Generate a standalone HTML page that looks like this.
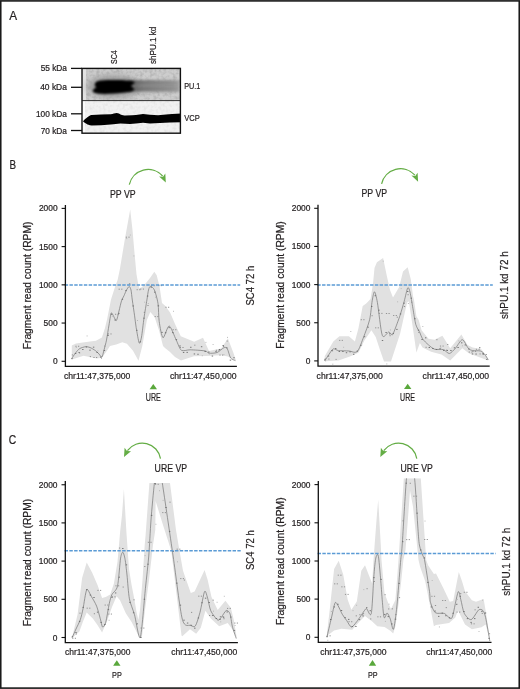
<!DOCTYPE html>
<html><head><meta charset="utf-8"><style>
html,body{margin:0;padding:0;background:#fff;}
svg{display:block;font-family:"Liberation Sans",sans-serif;will-change:transform;}
text{stroke:#231f20;stroke-width:0.22px;}
</style></head><body>
<svg width="520" height="689" viewBox="0 0 520 689">
<rect x="0" y="0" width="520" height="689" fill="#fff"/>
<text x="9.20" y="19.60" font-size="13.00" fill="#231f20" textLength="7.86" lengthAdjust="spacingAndGlyphs">A</text>
<text x="9.50" y="168.80" font-size="13.00" fill="#231f20" textLength="6.57" lengthAdjust="spacingAndGlyphs">B</text>
<text x="8.70" y="444.10" font-size="13.00" fill="#231f20" textLength="7.42" lengthAdjust="spacingAndGlyphs">C</text>
<text transform="translate(116.90 63.90) rotate(-90)" x="0" y="0" font-size="9.40" fill="#231f20" textLength="13.67" lengthAdjust="spacingAndGlyphs">SC4</text>
<text transform="translate(155.70 63.90) rotate(-90)" x="0" y="0" font-size="9.20" fill="#231f20" textLength="37.03" lengthAdjust="spacingAndGlyphs">shPU.1 kd</text>
<text x="40.70" y="71.30" font-size="8.30" fill="#231f20" textLength="26.19" lengthAdjust="spacingAndGlyphs">55 kDa</text>
<text x="40.20" y="90.00" font-size="8.30" fill="#231f20" textLength="26.69" lengthAdjust="spacingAndGlyphs">40 kDa</text>
<text x="36.00" y="116.70" font-size="8.30" fill="#231f20" textLength="30.85" lengthAdjust="spacingAndGlyphs">100 kDa</text>
<text x="40.70" y="133.50" font-size="8.30" fill="#231f20" textLength="26.19" lengthAdjust="spacingAndGlyphs">70 kDa</text>
<line x1="71.00" y1="68.40" x2="82.00" y2="68.40" stroke="#111" stroke-width="1.30"/>
<line x1="71.00" y1="87.30" x2="82.00" y2="87.30" stroke="#111" stroke-width="1.30"/>
<line x1="71.00" y1="113.80" x2="82.00" y2="113.80" stroke="#111" stroke-width="1.30"/>
<line x1="71.00" y1="130.50" x2="82.00" y2="130.50" stroke="#111" stroke-width="1.30"/>
<text x="184.20" y="88.70" font-size="9.00" fill="#231f20" textLength="16.22" lengthAdjust="spacingAndGlyphs">PU.1</text>
<text x="184.20" y="121.00" font-size="9.00" fill="#231f20" textLength="15.57" lengthAdjust="spacingAndGlyphs">VCP</text>

<defs>
 <filter id="noise" x="0" y="0" width="100%" height="100%">
  <feTurbulence type="fractalNoise" baseFrequency="0.3" numOctaves="2" seed="7"/>
  <feColorMatrix type="matrix" values="0 0 0 0 0  0 0 0 0 0  0 0 0 0 0  0 0 0 -0.9 0.55"/>
 </filter>
 <filter id="blur06" x="-10%" y="-30%" width="120%" height="160%"><feGaussianBlur stdDeviation="0.6"/></filter>
 <filter id="blur08" x="-10%" y="-30%" width="120%" height="160%"><feGaussianBlur stdDeviation="0.85"/></filter>
 <filter id="blur15" x="-20%" y="-50%" width="140%" height="200%"><feGaussianBlur stdDeviation="1.5"/></filter>
 <filter id="blur1" x="-20%" y="-80%" width="140%" height="260%"><feGaussianBlur stdDeviation="1"/></filter>
 <filter id="blur2" x="-20%" y="-50%" width="140%" height="200%"><feGaussianBlur stdDeviation="2"/></filter>
 <filter id="blur3" x="-20%" y="-50%" width="140%" height="200%"><feGaussianBlur stdDeviation="3.5"/></filter>
 <clipPath id="clipTop"><rect x="82" y="68.5" width="98.5" height="32"/></clipPath>
 <clipPath id="clipBot"><rect x="82" y="100.5" width="98.5" height="33"/></clipPath>
</defs>
<g clip-path="url(#clipTop)">
 <rect x="82" y="68.5" width="99" height="32" fill="#cdcdcd"/>
 <rect x="82" y="68.5" width="99" height="32" fill="#fff" filter="url(#noise)" opacity="0.3"/>
 <rect x="82" y="68.5" width="4" height="32" fill="#e2e2e2"/>
 <ellipse cx="113" cy="86.5" rx="26" ry="11" fill="#9a9a9a" filter="url(#blur3)"/>
 <linearGradient id="smg" x1="0" y1="0" x2="1" y2="0"><stop offset="0" stop-color="#606060"/><stop offset="0.3" stop-color="#838383"/><stop offset="0.85" stop-color="#939393"/><stop offset="1" stop-color="#a2a2a2"/></linearGradient>
 <linearGradient id="smg2" x1="0" y1="0" x2="1" y2="0"><stop offset="0" stop-color="#555" stop-opacity="0.6"/><stop offset="1" stop-color="#777" stop-opacity="0.15"/></linearGradient>
 <rect x="128" y="80.2" width="52" height="11.8" fill="url(#smg)" filter="url(#blur15)"/>
 <rect x="130" y="81" width="48" height="2.6" fill="url(#smg2)" filter="url(#blur1)"/>
 <rect x="130" y="87.6" width="48" height="2.6" fill="url(#smg2)" filter="url(#blur1)"/>
 <path d="M96.5,87.2 C95.2,86.6 94.6,85.6 94.8,84.2 C95.2,82.2 97,81 100.5,80.6 C108,80 120,80 127,80.4 C131,80.7 134,81.5 135.2,82.5 C133.5,83.8 132,85 130.8,86 C132.2,87.2 133.6,88.3 134.5,89.5 C133,91 130,92 126,92.6 C118,93.6 106,94.2 99,93.8 C95,93.5 93,92.3 92.6,90.8 C93.2,89.2 94.8,88 96.5,87.2 Z" fill="#050505" filter="url(#blur08)"/>
</g>
<g clip-path="url(#clipBot)">
 <rect x="82" y="100.5" width="99" height="33" fill="#f1f1f1"/>
 <rect x="82" y="100.5" width="99" height="33" fill="#fff" filter="url(#noise)" opacity="0.12"/>
 <rect x="82" y="100.5" width="3" height="33" fill="#fafafa"/>
 <path d="M83,121.6 C84.2,119.6 85.5,118.6 86.8,117.8 C88.5,116.2 90,115.2 91.6,114.9 L101.2,114.4 L110.8,114.2 C113,114 115,113.2 116.6,113 C118.5,113.2 119.5,114 120.5,114.4 C122.5,115 124,115.4 125.3,115.4 L132,115.2 L136,115 L143,114 L150,114.8 L158,115.2 L166,114.5 L172,114 L181,113.5 L181,122.2 L170,122.5 L160,123 L150,123.5 L143,122.8 L136,123.5 L130,124 L120.5,123.6 L110.8,124.5 L101.2,125.2 L91.6,125.5 C89,125.2 87.5,124.5 86.8,124 C85.2,123.2 84,122.5 83,121.6 Z" fill="#030303" filter="url(#blur06)"/>
</g>
<rect x="82" y="68.4" width="98.4" height="64.8" fill="none" stroke="#111" stroke-width="1.4"/>
<line x1="82" y1="100.6" x2="180.4" y2="100.6" stroke="#1a1a1a" stroke-width="0.9"/>

<clipPath id="cbl"><rect x="65.4" y="205.6" width="174.5" height="160.7"/></clipPath>
<g clip-path="url(#cbl)">
<polygon points="71.8,345.4 76.0,343.5 81.0,342.7 90.0,341.5 96.0,340.8 101.9,337.5 105.0,328.0 107.1,319.2 111.0,299.6 115.0,287.0 117.6,280.0 119.9,269.0 124.8,239.4 130.2,209.4 132.5,230.0 134.6,254.0 136.5,274.2 138.0,282.9 139.4,288.2 142.0,287.0 146.0,283.0 150.0,278.0 154.3,271.8 156.7,275.2 159.6,286.7 162.0,303.0 165.4,306.0 170.2,312.7 175.0,324.0 180.8,336.3 194.2,341.7 203.0,337.7 209.0,351.1 221.1,348.5 227.9,338.4 233.3,352.5 236.0,360.6 236.0,361.2 228.0,356.5 221.0,355.2 206.0,355.9 194.0,356.3 187.0,358.5 181.0,360.5 175.0,357.0 170.0,352.0 165.0,348.0 163.0,346.0 159.2,331.0 154.6,317.0 150.3,312.0 146.9,320.0 142.3,346.0 138.5,360.8 133.0,350.8 126.9,343.8 122.3,342.3 116.2,344.6 110.0,346.0 107.1,350.6 101.9,357.8 96.7,358.4 83.6,355.8 71.8,359.5" fill="#e1e1e1"/>
<path d="M71.80,358.40 C72.29,357.68 74.45,354.31 75.50,353.00 C76.55,351.69 78.35,349.44 79.70,348.60 C81.05,347.76 84.23,346.85 85.60,346.70 C86.97,346.55 88.69,346.98 90.00,347.50 C91.31,348.02 94.20,349.73 95.40,350.60 C96.60,351.47 98.13,353.13 99.00,354.00 C99.87,354.87 101.23,357.63 101.90,357.10 C102.57,356.57 103.39,352.27 104.00,350.00 C104.61,347.73 105.83,343.43 106.50,340.10 C107.17,336.77 108.39,328.57 109.00,325.00 C109.61,321.43 110.57,314.63 111.10,313.30 C111.63,311.97 112.31,314.04 113.00,315.00 C113.69,315.96 115.50,321.03 116.30,320.50 C117.10,319.97 118.31,313.61 119.00,311.00 C119.69,308.39 120.83,302.94 121.50,300.90 C122.17,298.86 123.33,297.15 124.00,295.70 C124.67,294.25 125.81,291.23 126.50,290.00 C127.19,288.77 128.60,286.50 129.20,286.50 C129.80,286.50 130.59,288.20 131.00,290.00 C131.41,291.80 131.82,296.56 132.30,300.00 C132.78,303.44 134.08,312.11 134.60,315.80 C135.12,319.49 135.59,324.07 136.20,327.70 C136.81,331.33 138.49,341.76 139.20,343.00 C139.91,344.24 140.86,340.33 141.50,337.00 C142.14,333.67 143.28,322.93 144.00,318.00 C144.72,313.07 146.30,303.73 146.90,300.00 C147.50,296.27 148.03,291.83 148.50,290.00 C148.97,288.17 149.61,286.30 150.40,286.30 C151.19,286.30 153.39,287.71 154.40,290.00 C155.41,292.29 157.36,299.30 158.00,303.50 C158.64,307.70 158.53,316.94 159.20,321.50 C159.87,326.06 161.67,337.10 163.00,337.70 C164.33,338.30 167.44,325.69 169.20,326.00 C170.96,326.31 174.57,336.76 176.20,340.00 C177.83,343.24 179.53,348.99 181.40,350.30 C183.27,351.61 187.05,349.72 190.20,349.80 C193.35,349.88 202.49,350.45 205.00,350.90 C207.51,351.35 207.39,352.99 209.00,353.20 C210.61,353.41 215.13,353.22 217.10,352.50 C219.07,351.78 222.45,348.33 223.80,347.80 C225.15,347.27 226.29,347.15 227.20,348.50 C228.11,349.85 229.52,356.29 230.60,357.90 C231.68,359.51 234.67,360.24 235.30,360.60" fill="none" stroke="#747474" stroke-width="0.7"/>
<rect x="71.3" y="358.2" width="1.4" height="0.9" fill="#6a6a6a"/>
<rect x="71.8" y="354.5" width="1.2" height="0.9" fill="#8a8a8a"/>
<rect x="74.9" y="353.1" width="1.4" height="0.9" fill="#6a6a6a"/>
<rect x="75.4" y="345.8" width="1.2" height="0.9" fill="#8a8a8a"/>
<rect x="78.0" y="345.8" width="1.2" height="0.9" fill="#8a8a8a"/>
<rect x="75.8" y="347.1" width="1.0" height="0.9" fill="#b4b4b4"/>
<rect x="78.5" y="352.0" width="1.4" height="0.9" fill="#6a6a6a"/>
<rect x="79.0" y="352.5" width="1.2" height="0.9" fill="#8a8a8a"/>
<rect x="82.1" y="349.0" width="1.4" height="0.9" fill="#6a6a6a"/>
<rect x="85.7" y="346.5" width="1.4" height="0.9" fill="#6a6a6a"/>
<rect x="86.6" y="335.5" width="1.0" height="0.9" fill="#b4b4b4"/>
<rect x="89.3" y="349.7" width="1.4" height="0.9" fill="#6a6a6a"/>
<rect x="89.8" y="356.2" width="1.2" height="0.9" fill="#8a8a8a"/>
<rect x="92.9" y="346.7" width="1.4" height="0.9" fill="#6a6a6a"/>
<rect x="93.4" y="357.0" width="1.2" height="0.9" fill="#8a8a8a"/>
<rect x="96.0" y="357.0" width="1.2" height="0.9" fill="#8a8a8a"/>
<rect x="96.5" y="352.0" width="1.4" height="0.9" fill="#6a6a6a"/>
<rect x="97.4" y="350.4" width="1.0" height="0.9" fill="#b4b4b4"/>
<rect x="100.1" y="356.7" width="1.4" height="0.9" fill="#6a6a6a"/>
<rect x="101.0" y="358.0" width="1.0" height="0.9" fill="#b4b4b4"/>
<rect x="103.7" y="350.0" width="1.4" height="0.9" fill="#6a6a6a"/>
<rect x="104.2" y="345.6" width="1.2" height="0.9" fill="#8a8a8a"/>
<rect x="107.3" y="335.1" width="1.4" height="0.9" fill="#6a6a6a"/>
<rect x="107.8" y="333.5" width="1.2" height="0.9" fill="#8a8a8a"/>
<rect x="110.4" y="333.5" width="1.2" height="0.9" fill="#8a8a8a"/>
<rect x="110.9" y="313.8" width="1.4" height="0.9" fill="#6a6a6a"/>
<rect x="111.8" y="315.8" width="1.0" height="0.9" fill="#b4b4b4"/>
<rect x="114.5" y="319.6" width="1.4" height="0.9" fill="#6a6a6a"/>
<rect x="115.0" y="313.8" width="1.2" height="0.9" fill="#8a8a8a"/>
<rect x="117.6" y="313.8" width="1.2" height="0.9" fill="#8a8a8a"/>
<rect x="118.1" y="312.9" width="1.4" height="0.9" fill="#6a6a6a"/>
<rect x="118.6" y="288.7" width="1.2" height="0.9" fill="#8a8a8a"/>
<rect x="121.2" y="288.7" width="1.2" height="0.9" fill="#8a8a8a"/>
<rect x="121.7" y="298.8" width="1.4" height="0.9" fill="#6a6a6a"/>
<rect x="125.3" y="290.2" width="1.4" height="0.9" fill="#6a6a6a"/>
<rect x="125.8" y="236.7" width="1.2" height="0.9" fill="#8a8a8a"/>
<rect x="128.4" y="236.7" width="1.2" height="0.9" fill="#8a8a8a"/>
<rect x="126.2" y="238.2" width="1.0" height="0.9" fill="#b4b4b4"/>
<rect x="128.9" y="283.5" width="1.4" height="0.9" fill="#6a6a6a"/>
<rect x="129.8" y="234.6" width="1.0" height="0.9" fill="#b4b4b4"/>
<rect x="132.5" y="305.5" width="1.4" height="0.9" fill="#6a6a6a"/>
<rect x="133.4" y="255.5" width="1.0" height="0.9" fill="#b4b4b4"/>
<rect x="136.1" y="329.8" width="1.4" height="0.9" fill="#6a6a6a"/>
<rect x="136.6" y="289.3" width="1.2" height="0.9" fill="#8a8a8a"/>
<rect x="139.2" y="289.3" width="1.2" height="0.9" fill="#8a8a8a"/>
<rect x="137.0" y="320.1" width="1.0" height="0.9" fill="#b4b4b4"/>
<rect x="139.7" y="341.4" width="1.4" height="0.9" fill="#6a6a6a"/>
<rect x="140.2" y="288.6" width="1.2" height="0.9" fill="#8a8a8a"/>
<rect x="142.8" y="288.6" width="1.2" height="0.9" fill="#8a8a8a"/>
<rect x="143.3" y="317.7" width="1.4" height="0.9" fill="#6a6a6a"/>
<rect x="143.8" y="311.9" width="1.2" height="0.9" fill="#8a8a8a"/>
<rect x="144.2" y="301.7" width="1.0" height="0.9" fill="#b4b4b4"/>
<rect x="146.9" y="295.6" width="1.4" height="0.9" fill="#6a6a6a"/>
<rect x="147.4" y="305.0" width="1.2" height="0.9" fill="#8a8a8a"/>
<rect x="147.8" y="303.1" width="1.0" height="0.9" fill="#b4b4b4"/>
<rect x="150.5" y="286.7" width="1.4" height="0.9" fill="#6a6a6a"/>
<rect x="151.0" y="285.3" width="1.2" height="0.9" fill="#8a8a8a"/>
<rect x="153.6" y="285.3" width="1.2" height="0.9" fill="#8a8a8a"/>
<rect x="154.1" y="291.7" width="1.4" height="0.9" fill="#6a6a6a"/>
<rect x="154.6" y="316.2" width="1.2" height="0.9" fill="#8a8a8a"/>
<rect x="157.2" y="316.2" width="1.2" height="0.9" fill="#8a8a8a"/>
<rect x="155.0" y="296.7" width="1.0" height="0.9" fill="#b4b4b4"/>
<rect x="157.7" y="305.4" width="1.4" height="0.9" fill="#6a6a6a"/>
<rect x="158.2" y="285.2" width="1.2" height="0.9" fill="#8a8a8a"/>
<rect x="160.8" y="285.2" width="1.2" height="0.9" fill="#8a8a8a"/>
<rect x="158.6" y="318.7" width="1.0" height="0.9" fill="#b4b4b4"/>
<rect x="161.3" y="331.9" width="1.4" height="0.9" fill="#6a6a6a"/>
<rect x="164.9" y="332.3" width="1.4" height="0.9" fill="#6a6a6a"/>
<rect x="165.4" y="306.8" width="1.2" height="0.9" fill="#8a8a8a"/>
<rect x="168.0" y="306.8" width="1.2" height="0.9" fill="#8a8a8a"/>
<rect x="168.5" y="327.2" width="1.4" height="0.9" fill="#6a6a6a"/>
<rect x="172.1" y="332.2" width="1.4" height="0.9" fill="#6a6a6a"/>
<rect x="172.6" y="329.3" width="1.2" height="0.9" fill="#8a8a8a"/>
<rect x="175.2" y="329.3" width="1.2" height="0.9" fill="#8a8a8a"/>
<rect x="173.0" y="310.8" width="1.0" height="0.9" fill="#b4b4b4"/>
<rect x="175.7" y="339.2" width="1.4" height="0.9" fill="#6a6a6a"/>
<rect x="179.3" y="345.5" width="1.4" height="0.9" fill="#6a6a6a"/>
<rect x="179.8" y="347.0" width="1.2" height="0.9" fill="#8a8a8a"/>
<rect x="182.4" y="347.0" width="1.2" height="0.9" fill="#8a8a8a"/>
<rect x="182.9" y="352.0" width="1.4" height="0.9" fill="#6a6a6a"/>
<rect x="186.5" y="351.9" width="1.4" height="0.9" fill="#6a6a6a"/>
<rect x="190.1" y="346.8" width="1.4" height="0.9" fill="#6a6a6a"/>
<rect x="193.7" y="353.5" width="1.4" height="0.9" fill="#6a6a6a"/>
<rect x="194.2" y="344.7" width="1.2" height="0.9" fill="#8a8a8a"/>
<rect x="197.3" y="353.8" width="1.4" height="0.9" fill="#6a6a6a"/>
<rect x="200.9" y="346.3" width="1.4" height="0.9" fill="#6a6a6a"/>
<rect x="201.8" y="355.3" width="1.0" height="0.9" fill="#b4b4b4"/>
<rect x="204.5" y="351.0" width="1.4" height="0.9" fill="#6a6a6a"/>
<rect x="205.4" y="341.9" width="1.0" height="0.9" fill="#b4b4b4"/>
<rect x="208.1" y="351.6" width="1.4" height="0.9" fill="#6a6a6a"/>
<rect x="209.0" y="353.5" width="1.0" height="0.9" fill="#b4b4b4"/>
<rect x="211.7" y="355.6" width="1.4" height="0.9" fill="#6a6a6a"/>
<rect x="212.6" y="344.0" width="1.0" height="0.9" fill="#b4b4b4"/>
<rect x="215.3" y="351.2" width="1.4" height="0.9" fill="#6a6a6a"/>
<rect x="215.8" y="349.8" width="1.2" height="0.9" fill="#8a8a8a"/>
<rect x="218.4" y="349.8" width="1.2" height="0.9" fill="#8a8a8a"/>
<rect x="218.9" y="349.1" width="1.4" height="0.9" fill="#6a6a6a"/>
<rect x="219.4" y="354.6" width="1.2" height="0.9" fill="#8a8a8a"/>
<rect x="222.0" y="354.6" width="1.2" height="0.9" fill="#8a8a8a"/>
<rect x="222.5" y="345.1" width="1.4" height="0.9" fill="#6a6a6a"/>
<rect x="223.0" y="346.0" width="1.2" height="0.9" fill="#8a8a8a"/>
<rect x="223.4" y="354.2" width="1.0" height="0.9" fill="#b4b4b4"/>
<rect x="226.1" y="347.4" width="1.4" height="0.9" fill="#6a6a6a"/>
<rect x="226.6" y="340.6" width="1.2" height="0.9" fill="#8a8a8a"/>
<rect x="227.0" y="336.9" width="1.0" height="0.9" fill="#b4b4b4"/>
<rect x="229.7" y="359.7" width="1.4" height="0.9" fill="#6a6a6a"/>
<rect x="233.3" y="357.3" width="1.4" height="0.9" fill="#6a6a6a"/>
</g>
<line x1="64.65" y1="285.10" x2="240.2" y2="285.10" stroke="#5b9bd5" stroke-width="1.5" stroke-dasharray="3.45 1.35"/>
<path d="M65.40,205.00 L65.40,366.30 L236.90,366.30" fill="none" stroke="#111" stroke-width="1.3"/>
<line x1="61.60" y1="208.40" x2="65.40" y2="208.40" stroke="#111" stroke-width="1.10"/>
<text x="38.95" y="211.40" font-size="8.40" fill="#231f20" textLength="18.68" lengthAdjust="spacingAndGlyphs">2000</text>
<line x1="61.60" y1="246.60" x2="65.40" y2="246.60" stroke="#111" stroke-width="1.10"/>
<text x="38.95" y="249.60" font-size="8.40" fill="#231f20" textLength="18.68" lengthAdjust="spacingAndGlyphs">1500</text>
<line x1="61.60" y1="284.85" x2="65.40" y2="284.85" stroke="#111" stroke-width="1.10"/>
<text x="38.95" y="287.85" font-size="8.40" fill="#231f20" textLength="18.68" lengthAdjust="spacingAndGlyphs">1000</text>
<line x1="61.60" y1="323.05" x2="65.40" y2="323.05" stroke="#111" stroke-width="1.10"/>
<text x="43.57" y="326.05" font-size="8.40" fill="#231f20" textLength="14.01" lengthAdjust="spacingAndGlyphs">500</text>
<line x1="61.60" y1="361.30" x2="65.40" y2="361.30" stroke="#111" stroke-width="1.10"/>
<text x="52.90" y="364.30" font-size="8.40" fill="#231f20" textLength="4.67" lengthAdjust="spacingAndGlyphs">0</text>
<text transform="translate(31.10 349.30) rotate(-90)" x="0" y="0" font-size="10.90" fill="#231f20" textLength="127.68" lengthAdjust="spacingAndGlyphs">Fragment read count (RPM)</text>
<text x="64.00" y="378.50" font-size="9.30" fill="#231f20" textLength="66.29" lengthAdjust="spacingAndGlyphs">chr11:47,375,000</text>
<text x="170.00" y="378.50" font-size="9.30" fill="#231f20" textLength="66.49" lengthAdjust="spacingAndGlyphs">chr11:47,450,000</text>
<polygon points="149.6,389.2 157.0,389.2 153.3,383.9" fill="#5aa83c"/>
<text x="145.80" y="401.20" font-size="10.60" fill="#231f20" textLength="15.01" lengthAdjust="spacingAndGlyphs">URE</text>
<text transform="translate(253.90 305.60) rotate(-90)" x="0" y="0" font-size="10.60" fill="#231f20" textLength="39.79" lengthAdjust="spacingAndGlyphs">SC4 72 h</text>
<text x="110.00" y="197.80" font-size="10.80" fill="#231f20" textLength="25.68" lengthAdjust="spacingAndGlyphs">PP VP</text>
<path d="M129.30,184.60 A19.30,19.30 0 0 1 162.60,176.00" fill="none" stroke="#64ad45" stroke-width="1.25"/>
<polygon points="165.8,182.6 165.3,173.5 163.0,176.7 159.1,176.4" fill="#64ad45"/>
<clipPath id="cbr"><rect x="318.0" y="205.6" width="174.7" height="160.6"/></clipPath>
<g clip-path="url(#cbr)">
<polygon points="324.7,356.2 333.3,341.4 339.4,336.2 348.9,336.2 354.9,341.4 358.4,328.4 362.7,306.0 366.2,303.4 370.5,299.0 373.0,283.5 374.5,268.0 376.9,262.3 383.1,258.0 386.9,276.2 390.0,290.0 393.0,297.5 399.2,287.0 403.0,271.5 407.7,267.2 410.8,279.2 413.0,296.0 414.0,300.0 416.4,316.3 418.7,320.0 421.6,330.2 428.5,338.8 434.6,339.7 442.4,335.7 450.2,348.3 461.4,334.5 467.5,344.9 472.7,347.5 481.3,349.2 488.2,358.7 488.2,360.5 476.1,356.1 469.2,353.5 462.3,348.3 450.2,360.5 441.5,354.4 431.1,351.8 422.5,347.5 419.9,343.1 416.4,352.4 414.7,340.8 411.7,319.9 408.8,301.3 407.1,302.4 400.1,333.8 391.0,361.5 384.0,361.5 380.0,350.0 375.7,337.1 371.4,330.2 364.4,340.6 358.4,352.7 350.6,356.2 338.5,360.5 324.7,361.3" fill="#e1e1e1"/>
<path d="M324.70,361.00 C325.27,360.12 327.85,356.01 329.00,354.40 C330.15,352.79 332.03,349.41 333.30,348.90 C334.57,348.39 336.42,350.32 338.50,350.60 C340.58,350.88 346.71,350.77 348.90,351.00 C351.09,351.23 353.63,352.43 354.90,352.30 C356.17,352.17 357.24,352.03 358.40,350.00 C359.56,347.97 362.11,341.13 363.60,337.10 C365.09,333.07 368.45,324.64 369.60,319.80 C370.75,314.96 371.55,304.53 372.20,300.80 C372.85,297.07 373.81,291.57 374.50,291.80 C375.19,292.03 376.36,296.69 377.40,302.50 C378.44,308.31 380.79,331.47 382.30,335.40 C383.81,339.33 387.39,332.05 388.70,332.00 C390.01,331.95 391.35,335.13 392.10,335.00 C392.85,334.87 393.23,333.64 394.30,331.00 C395.37,328.36 398.78,319.16 400.10,315.20 C401.42,311.24 403.19,304.94 404.20,301.30 C405.21,297.66 406.93,289.14 407.70,287.90 C408.47,286.66 409.31,289.28 410.00,292.00 C410.69,294.72 412.13,303.97 412.90,308.30 C413.67,312.63 414.87,321.25 415.80,324.50 C416.73,327.75 419.01,330.79 419.90,332.70 C420.79,334.61 421.35,337.17 422.50,338.80 C423.65,340.43 426.89,343.51 428.50,344.90 C430.11,346.29 432.63,348.57 434.60,349.20 C436.57,349.83 441.34,349.03 443.30,349.60 C445.26,350.17 447.69,353.67 449.30,353.50 C450.91,353.33 453.67,350.14 455.40,348.30 C457.13,346.46 460.58,339.70 462.30,339.70 C464.02,339.70 466.91,346.85 468.30,348.30 C469.69,349.75 471.09,350.24 472.70,350.60 C474.31,350.96 478.79,350.49 480.40,351.00 C482.01,351.51 483.76,353.20 484.80,354.40 C485.84,355.60 487.75,359.25 488.20,360.00" fill="none" stroke="#747474" stroke-width="0.7"/>
<rect x="324.2" y="359.4" width="1.4" height="0.9" fill="#6a6a6a"/>
<rect x="324.7" y="358.5" width="1.2" height="0.9" fill="#8a8a8a"/>
<rect x="325.1" y="360.4" width="1.0" height="0.9" fill="#b4b4b4"/>
<rect x="327.8" y="355.6" width="1.4" height="0.9" fill="#6a6a6a"/>
<rect x="328.3" y="358.6" width="1.2" height="0.9" fill="#8a8a8a"/>
<rect x="331.4" y="350.1" width="1.4" height="0.9" fill="#6a6a6a"/>
<rect x="331.9" y="350.4" width="1.2" height="0.9" fill="#8a8a8a"/>
<rect x="332.3" y="363.7" width="1.0" height="0.9" fill="#b4b4b4"/>
<rect x="335.0" y="348.2" width="1.4" height="0.9" fill="#6a6a6a"/>
<rect x="335.5" y="358.9" width="1.2" height="0.9" fill="#8a8a8a"/>
<rect x="338.6" y="351.0" width="1.4" height="0.9" fill="#6a6a6a"/>
<rect x="339.1" y="339.9" width="1.2" height="0.9" fill="#8a8a8a"/>
<rect x="341.7" y="339.9" width="1.2" height="0.9" fill="#8a8a8a"/>
<rect x="342.2" y="351.1" width="1.4" height="0.9" fill="#6a6a6a"/>
<rect x="343.1" y="346.8" width="1.0" height="0.9" fill="#b4b4b4"/>
<rect x="345.8" y="352.3" width="1.4" height="0.9" fill="#6a6a6a"/>
<rect x="349.4" y="351.4" width="1.4" height="0.9" fill="#6a6a6a"/>
<rect x="350.3" y="331.1" width="1.0" height="0.9" fill="#b4b4b4"/>
<rect x="353.0" y="353.8" width="1.4" height="0.9" fill="#6a6a6a"/>
<rect x="356.6" y="350.7" width="1.4" height="0.9" fill="#6a6a6a"/>
<rect x="360.2" y="344.8" width="1.4" height="0.9" fill="#6a6a6a"/>
<rect x="360.7" y="319.3" width="1.2" height="0.9" fill="#8a8a8a"/>
<rect x="363.3" y="319.3" width="1.2" height="0.9" fill="#8a8a8a"/>
<rect x="361.1" y="344.8" width="1.0" height="0.9" fill="#b4b4b4"/>
<rect x="363.8" y="336.3" width="1.4" height="0.9" fill="#6a6a6a"/>
<rect x="367.4" y="326.7" width="1.4" height="0.9" fill="#6a6a6a"/>
<rect x="371.0" y="306.1" width="1.4" height="0.9" fill="#6a6a6a"/>
<rect x="371.5" y="315.3" width="1.2" height="0.9" fill="#8a8a8a"/>
<rect x="374.6" y="295.3" width="1.4" height="0.9" fill="#6a6a6a"/>
<rect x="375.1" y="327.4" width="1.2" height="0.9" fill="#8a8a8a"/>
<rect x="377.7" y="327.4" width="1.2" height="0.9" fill="#8a8a8a"/>
<rect x="378.2" y="309.7" width="1.4" height="0.9" fill="#6a6a6a"/>
<rect x="378.7" y="312.9" width="1.2" height="0.9" fill="#8a8a8a"/>
<rect x="381.3" y="312.9" width="1.2" height="0.9" fill="#8a8a8a"/>
<rect x="381.8" y="340.1" width="1.4" height="0.9" fill="#6a6a6a"/>
<rect x="382.7" y="260.7" width="1.0" height="0.9" fill="#b4b4b4"/>
<rect x="385.4" y="332.1" width="1.4" height="0.9" fill="#6a6a6a"/>
<rect x="385.9" y="313.0" width="1.2" height="0.9" fill="#8a8a8a"/>
<rect x="388.5" y="313.0" width="1.2" height="0.9" fill="#8a8a8a"/>
<rect x="386.3" y="363.5" width="1.0" height="0.9" fill="#b4b4b4"/>
<rect x="389.0" y="333.4" width="1.4" height="0.9" fill="#6a6a6a"/>
<rect x="389.5" y="335.3" width="1.2" height="0.9" fill="#8a8a8a"/>
<rect x="389.9" y="329.5" width="1.0" height="0.9" fill="#b4b4b4"/>
<rect x="392.6" y="332.9" width="1.4" height="0.9" fill="#6a6a6a"/>
<rect x="393.1" y="315.0" width="1.2" height="0.9" fill="#8a8a8a"/>
<rect x="395.7" y="315.0" width="1.2" height="0.9" fill="#8a8a8a"/>
<rect x="396.2" y="328.9" width="1.4" height="0.9" fill="#6a6a6a"/>
<rect x="396.7" y="316.7" width="1.2" height="0.9" fill="#8a8a8a"/>
<rect x="397.1" y="301.4" width="1.0" height="0.9" fill="#b4b4b4"/>
<rect x="399.8" y="313.5" width="1.4" height="0.9" fill="#6a6a6a"/>
<rect x="400.7" y="288.2" width="1.0" height="0.9" fill="#b4b4b4"/>
<rect x="403.4" y="302.7" width="1.4" height="0.9" fill="#6a6a6a"/>
<rect x="403.9" y="306.0" width="1.2" height="0.9" fill="#8a8a8a"/>
<rect x="404.3" y="300.8" width="1.0" height="0.9" fill="#b4b4b4"/>
<rect x="407.0" y="291.0" width="1.4" height="0.9" fill="#6a6a6a"/>
<rect x="407.5" y="294.3" width="1.2" height="0.9" fill="#8a8a8a"/>
<rect x="407.9" y="303.1" width="1.0" height="0.9" fill="#b4b4b4"/>
<rect x="410.6" y="297.7" width="1.4" height="0.9" fill="#6a6a6a"/>
<rect x="411.1" y="301.7" width="1.2" height="0.9" fill="#8a8a8a"/>
<rect x="414.2" y="318.3" width="1.4" height="0.9" fill="#6a6a6a"/>
<rect x="417.8" y="329.7" width="1.4" height="0.9" fill="#6a6a6a"/>
<rect x="418.3" y="332.0" width="1.2" height="0.9" fill="#8a8a8a"/>
<rect x="421.4" y="339.0" width="1.4" height="0.9" fill="#6a6a6a"/>
<rect x="422.3" y="326.0" width="1.0" height="0.9" fill="#b4b4b4"/>
<rect x="425.0" y="337.4" width="1.4" height="0.9" fill="#6a6a6a"/>
<rect x="425.5" y="346.8" width="1.2" height="0.9" fill="#8a8a8a"/>
<rect x="428.6" y="347.1" width="1.4" height="0.9" fill="#6a6a6a"/>
<rect x="432.2" y="348.1" width="1.4" height="0.9" fill="#6a6a6a"/>
<rect x="435.8" y="349.0" width="1.4" height="0.9" fill="#6a6a6a"/>
<rect x="436.3" y="339.3" width="1.2" height="0.9" fill="#8a8a8a"/>
<rect x="439.4" y="348.3" width="1.4" height="0.9" fill="#6a6a6a"/>
<rect x="439.9" y="345.6" width="1.2" height="0.9" fill="#8a8a8a"/>
<rect x="442.5" y="345.6" width="1.2" height="0.9" fill="#8a8a8a"/>
<rect x="440.3" y="347.3" width="1.0" height="0.9" fill="#b4b4b4"/>
<rect x="443.0" y="350.0" width="1.4" height="0.9" fill="#6a6a6a"/>
<rect x="443.5" y="349.7" width="1.2" height="0.9" fill="#8a8a8a"/>
<rect x="446.1" y="349.7" width="1.2" height="0.9" fill="#8a8a8a"/>
<rect x="446.6" y="350.1" width="1.4" height="0.9" fill="#6a6a6a"/>
<rect x="447.1" y="344.0" width="1.2" height="0.9" fill="#8a8a8a"/>
<rect x="450.2" y="350.0" width="1.4" height="0.9" fill="#6a6a6a"/>
<rect x="453.8" y="347.4" width="1.4" height="0.9" fill="#6a6a6a"/>
<rect x="457.4" y="347.1" width="1.4" height="0.9" fill="#6a6a6a"/>
<rect x="458.3" y="340.4" width="1.0" height="0.9" fill="#b4b4b4"/>
<rect x="461.0" y="342.4" width="1.4" height="0.9" fill="#6a6a6a"/>
<rect x="461.9" y="345.4" width="1.0" height="0.9" fill="#b4b4b4"/>
<rect x="464.6" y="344.5" width="1.4" height="0.9" fill="#6a6a6a"/>
<rect x="468.2" y="348.6" width="1.4" height="0.9" fill="#6a6a6a"/>
<rect x="468.7" y="351.6" width="1.2" height="0.9" fill="#8a8a8a"/>
<rect x="471.3" y="351.6" width="1.2" height="0.9" fill="#8a8a8a"/>
<rect x="471.8" y="353.5" width="1.4" height="0.9" fill="#6a6a6a"/>
<rect x="472.3" y="350.9" width="1.2" height="0.9" fill="#8a8a8a"/>
<rect x="474.9" y="350.9" width="1.2" height="0.9" fill="#8a8a8a"/>
<rect x="475.4" y="353.6" width="1.4" height="0.9" fill="#6a6a6a"/>
<rect x="475.9" y="348.8" width="1.2" height="0.9" fill="#8a8a8a"/>
<rect x="478.5" y="348.8" width="1.2" height="0.9" fill="#8a8a8a"/>
<rect x="479.0" y="347.3" width="1.4" height="0.9" fill="#6a6a6a"/>
<rect x="479.5" y="353.5" width="1.2" height="0.9" fill="#8a8a8a"/>
<rect x="482.1" y="353.5" width="1.2" height="0.9" fill="#8a8a8a"/>
<rect x="482.6" y="353.3" width="1.4" height="0.9" fill="#6a6a6a"/>
<rect x="483.1" y="354.0" width="1.2" height="0.9" fill="#8a8a8a"/>
<rect x="485.7" y="354.0" width="1.2" height="0.9" fill="#8a8a8a"/>
<rect x="486.2" y="359.1" width="1.4" height="0.9" fill="#6a6a6a"/>
<rect x="487.1" y="358.8" width="1.0" height="0.9" fill="#b4b4b4"/>
</g>
<line x1="317.25" y1="285.00" x2="492.8" y2="285.00" stroke="#5b9bd5" stroke-width="1.5" stroke-dasharray="3.45 1.35"/>
<path d="M318.00,204.80 L318.00,366.20 L489.70,366.20" fill="none" stroke="#111" stroke-width="1.3"/>
<line x1="314.20" y1="208.30" x2="318.00" y2="208.30" stroke="#111" stroke-width="1.10"/>
<text x="291.75" y="211.30" font-size="8.40" fill="#231f20" textLength="18.68" lengthAdjust="spacingAndGlyphs">2000</text>
<line x1="314.20" y1="246.45" x2="318.00" y2="246.45" stroke="#111" stroke-width="1.10"/>
<text x="291.75" y="249.45" font-size="8.40" fill="#231f20" textLength="18.68" lengthAdjust="spacingAndGlyphs">1500</text>
<line x1="314.20" y1="284.60" x2="318.00" y2="284.60" stroke="#111" stroke-width="1.10"/>
<text x="291.75" y="287.60" font-size="8.40" fill="#231f20" textLength="18.68" lengthAdjust="spacingAndGlyphs">1000</text>
<line x1="314.20" y1="322.75" x2="318.00" y2="322.75" stroke="#111" stroke-width="1.10"/>
<text x="296.37" y="325.75" font-size="8.40" fill="#231f20" textLength="14.01" lengthAdjust="spacingAndGlyphs">500</text>
<line x1="314.20" y1="360.90" x2="318.00" y2="360.90" stroke="#111" stroke-width="1.10"/>
<text x="305.70" y="363.90" font-size="8.40" fill="#231f20" textLength="4.67" lengthAdjust="spacingAndGlyphs">0</text>
<text transform="translate(283.70 348.80) rotate(-90)" x="0" y="0" font-size="10.90" fill="#231f20" textLength="127.38" lengthAdjust="spacingAndGlyphs">Fragment read count (RPM)</text>
<text x="316.60" y="378.50" font-size="9.30" fill="#231f20" textLength="66.29" lengthAdjust="spacingAndGlyphs">chr11:47,375,000</text>
<text x="422.60" y="378.50" font-size="9.30" fill="#231f20" textLength="66.49" lengthAdjust="spacingAndGlyphs">chr11:47,450,000</text>
<polygon points="404.0,389.1 411.4,389.1 407.7,383.8" fill="#5aa83c"/>
<text x="400.10" y="400.90" font-size="10.60" fill="#231f20" textLength="14.91" lengthAdjust="spacingAndGlyphs">URE</text>
<text transform="translate(507.50 319.10) rotate(-90)" x="0" y="0" font-size="10.60" fill="#231f20" textLength="67.77" lengthAdjust="spacingAndGlyphs">shPU.1 kd 72 h</text>
<text x="361.50" y="197.00" font-size="10.80" fill="#231f20" textLength="25.58" lengthAdjust="spacingAndGlyphs">PP VP</text>
<path d="M381.60,183.80 A19.30,19.30 0 0 1 414.90,175.20" fill="none" stroke="#64ad45" stroke-width="1.25"/>
<polygon points="418.1,181.8 417.6,172.7 415.3,175.9 411.4,175.6" fill="#64ad45"/>
<clipPath id="ccl"><rect x="65.3" y="483.0" width="175.6" height="159.6"/></clipPath>
<g clip-path="url(#ccl)">
<polygon points="72.2,637.0 77.6,614.3 82.1,578.0 86.7,562.6 92.1,572.6 97.6,585.3 102.1,598.0 105.7,597.0 110.2,594.4 113.9,583.5 117.5,561.7 120.2,530.9 122.0,515.0 123.9,489.0 126.5,533.4 129.0,568.9 131.6,585.0 134.5,600.0 136.5,612.0 138.4,620.0 140.0,610.0 142.5,580.0 144.7,545.0 145.6,535.0 149.4,483.0 170.0,483.0 176.0,530.0 178.5,545.0 183.0,570.8 190.8,593.0 194.6,591.5 204.6,570.0 207.7,580.0 211.5,597.0 217.7,610.0 225.4,600.8 230.8,607.7 233.8,620.0 236.9,638.5 236.9,639.0 232.3,629.2 227.7,623.0 219.2,626.2 210.8,618.5 205.4,610.8 200.8,627.7 196.2,633.8 190.0,629.2 182.3,636.2 181.5,635.4 176.0,590.0 171.3,551.0 163.0,525.0 155.6,501.0 155.3,530.0 153.0,545.0 149.0,580.0 145.0,610.0 141.8,638.0 139.5,638.0 138.9,636.5 131.6,622.0 125.8,613.3 120.0,600.2 116.6,596.2 112.0,607.0 107.5,619.7 102.1,632.4 97.6,625.2 93.0,618.8 86.7,612.5 83.0,621.6 79.4,631.5 72.2,637.9" fill="#e1e1e1"/>
<path d="M72.20,637.50 C72.71,636.37 74.92,631.37 76.00,629.00 C77.08,626.63 79.37,622.38 80.30,619.70 C81.23,617.02 82.15,612.89 83.00,608.90 C83.85,604.91 85.61,591.49 86.70,589.80 C87.79,588.11 89.88,594.03 91.20,596.20 C92.52,598.37 95.39,603.09 96.60,606.10 C97.81,609.11 99.50,616.01 100.30,618.80 C101.10,621.59 101.88,626.51 102.60,627.00 C103.32,627.49 104.81,625.65 105.70,622.50 C106.59,619.35 108.46,607.15 109.30,603.40 C110.14,599.65 110.91,596.69 112.00,594.40 C113.09,592.11 116.35,591.04 117.50,586.20 C118.65,581.36 119.88,562.62 120.60,558.10 C121.32,553.58 122.30,552.11 122.90,552.30 C123.50,552.49 124.55,556.47 125.10,559.50 C125.65,562.53 126.43,569.76 127.00,575.00 C127.57,580.24 128.40,593.51 129.40,598.80 C130.40,604.09 133.05,609.57 134.50,614.70 C135.95,619.83 138.85,640.78 140.30,637.30 C141.75,633.82 144.27,599.44 145.40,588.60 C146.53,577.76 148.00,565.15 148.75,556.00 C149.50,546.85 150.25,529.73 151.00,520.00 C151.75,510.27 153.47,491.00 154.40,483.00 C155.33,475.00 156.95,460.00 158.00,460.00 C159.05,460.00 160.29,470.20 162.30,483.00 C164.31,495.80 170.43,537.84 173.10,556.00 C175.77,574.16 179.94,609.95 182.30,619.20 C184.66,628.45 189.05,624.52 190.80,625.40 C192.55,626.28 194.17,627.55 195.40,625.80 C196.63,624.05 198.77,616.87 200.00,612.30 C201.23,607.73 203.57,593.34 204.60,591.50 C205.63,589.66 206.87,595.93 207.70,598.50 C208.53,601.07 209.47,607.93 210.80,610.80 C212.13,613.67 216.27,619.17 217.70,620.00 C219.13,620.83 220.37,618.27 221.50,617.00 C222.63,615.73 225.07,610.93 226.20,610.50 C227.33,610.07 229.19,611.71 230.00,613.80 C230.81,615.89 231.47,622.91 232.30,626.20 C233.13,629.49 235.68,636.86 236.20,638.50" fill="none" stroke="#747474" stroke-width="0.7"/>
<rect x="71.7" y="636.4" width="1.4" height="0.9" fill="#6a6a6a"/>
<rect x="72.2" y="637.8" width="1.2" height="0.9" fill="#8a8a8a"/>
<rect x="74.8" y="637.8" width="1.2" height="0.9" fill="#8a8a8a"/>
<rect x="75.3" y="632.0" width="1.4" height="0.9" fill="#6a6a6a"/>
<rect x="75.8" y="633.5" width="1.2" height="0.9" fill="#8a8a8a"/>
<rect x="78.9" y="620.9" width="1.4" height="0.9" fill="#6a6a6a"/>
<rect x="79.4" y="612.7" width="1.2" height="0.9" fill="#8a8a8a"/>
<rect x="82.5" y="606.9" width="1.4" height="0.9" fill="#6a6a6a"/>
<rect x="86.1" y="589.0" width="1.4" height="0.9" fill="#6a6a6a"/>
<rect x="86.6" y="607.7" width="1.2" height="0.9" fill="#8a8a8a"/>
<rect x="89.2" y="607.7" width="1.2" height="0.9" fill="#8a8a8a"/>
<rect x="89.7" y="594.6" width="1.4" height="0.9" fill="#6a6a6a"/>
<rect x="93.3" y="597.1" width="1.4" height="0.9" fill="#6a6a6a"/>
<rect x="93.8" y="613.3" width="1.2" height="0.9" fill="#8a8a8a"/>
<rect x="96.9" y="611.7" width="1.4" height="0.9" fill="#6a6a6a"/>
<rect x="97.4" y="589.9" width="1.2" height="0.9" fill="#8a8a8a"/>
<rect x="100.0" y="589.9" width="1.2" height="0.9" fill="#8a8a8a"/>
<rect x="100.5" y="621.9" width="1.4" height="0.9" fill="#6a6a6a"/>
<rect x="104.1" y="624.0" width="1.4" height="0.9" fill="#6a6a6a"/>
<rect x="104.6" y="604.6" width="1.2" height="0.9" fill="#8a8a8a"/>
<rect x="107.2" y="604.6" width="1.2" height="0.9" fill="#8a8a8a"/>
<rect x="107.7" y="609.2" width="1.4" height="0.9" fill="#6a6a6a"/>
<rect x="108.2" y="613.6" width="1.2" height="0.9" fill="#8a8a8a"/>
<rect x="110.8" y="613.6" width="1.2" height="0.9" fill="#8a8a8a"/>
<rect x="108.6" y="619.8" width="1.0" height="0.9" fill="#b4b4b4"/>
<rect x="111.3" y="596.8" width="1.4" height="0.9" fill="#6a6a6a"/>
<rect x="111.8" y="596.4" width="1.2" height="0.9" fill="#8a8a8a"/>
<rect x="114.4" y="596.4" width="1.2" height="0.9" fill="#8a8a8a"/>
<rect x="114.9" y="592.5" width="1.4" height="0.9" fill="#6a6a6a"/>
<rect x="115.4" y="585.4" width="1.2" height="0.9" fill="#8a8a8a"/>
<rect x="118.0" y="585.4" width="1.2" height="0.9" fill="#8a8a8a"/>
<rect x="118.5" y="576.7" width="1.4" height="0.9" fill="#6a6a6a"/>
<rect x="119.0" y="547.6" width="1.2" height="0.9" fill="#8a8a8a"/>
<rect x="122.1" y="548.0" width="1.4" height="0.9" fill="#6a6a6a"/>
<rect x="122.6" y="586.6" width="1.2" height="0.9" fill="#8a8a8a"/>
<rect x="125.7" y="564.4" width="1.4" height="0.9" fill="#6a6a6a"/>
<rect x="129.3" y="601.9" width="1.4" height="0.9" fill="#6a6a6a"/>
<rect x="132.9" y="612.3" width="1.4" height="0.9" fill="#6a6a6a"/>
<rect x="133.4" y="599.4" width="1.2" height="0.9" fill="#8a8a8a"/>
<rect x="136.5" y="623.4" width="1.4" height="0.9" fill="#6a6a6a"/>
<rect x="140.1" y="637.0" width="1.4" height="0.9" fill="#6a6a6a"/>
<rect x="140.6" y="627.6" width="1.2" height="0.9" fill="#8a8a8a"/>
<rect x="143.2" y="627.6" width="1.2" height="0.9" fill="#8a8a8a"/>
<rect x="143.7" y="598.8" width="1.4" height="0.9" fill="#6a6a6a"/>
<rect x="144.2" y="566.0" width="1.2" height="0.9" fill="#8a8a8a"/>
<rect x="144.6" y="555.2" width="1.0" height="0.9" fill="#b4b4b4"/>
<rect x="147.3" y="563.7" width="1.4" height="0.9" fill="#6a6a6a"/>
<rect x="147.8" y="541.8" width="1.2" height="0.9" fill="#8a8a8a"/>
<rect x="150.4" y="541.8" width="1.2" height="0.9" fill="#8a8a8a"/>
<rect x="150.9" y="514.9" width="1.4" height="0.9" fill="#6a6a6a"/>
<rect x="154.5" y="483.0" width="1.4" height="0.9" fill="#6a6a6a"/>
<rect x="155.0" y="483.8" width="1.2" height="0.9" fill="#8a8a8a"/>
<rect x="157.6" y="483.8" width="1.2" height="0.9" fill="#8a8a8a"/>
<rect x="155.4" y="523.8" width="1.0" height="0.9" fill="#b4b4b4"/>
<rect x="158.1" y="464.8" width="1.4" height="0.9" fill="#6a6a6a"/>
<rect x="159.0" y="490.3" width="1.0" height="0.9" fill="#b4b4b4"/>
<rect x="161.7" y="480.9" width="1.4" height="0.9" fill="#6a6a6a"/>
<rect x="162.2" y="512.2" width="1.2" height="0.9" fill="#8a8a8a"/>
<rect x="164.8" y="512.2" width="1.2" height="0.9" fill="#8a8a8a"/>
<rect x="162.6" y="499.9" width="1.0" height="0.9" fill="#b4b4b4"/>
<rect x="165.3" y="507.0" width="1.4" height="0.9" fill="#6a6a6a"/>
<rect x="168.9" y="530.9" width="1.4" height="0.9" fill="#6a6a6a"/>
<rect x="169.4" y="501.7" width="1.2" height="0.9" fill="#8a8a8a"/>
<rect x="172.5" y="551.0" width="1.4" height="0.9" fill="#6a6a6a"/>
<rect x="176.1" y="582.7" width="1.4" height="0.9" fill="#6a6a6a"/>
<rect x="176.6" y="548.7" width="1.2" height="0.9" fill="#8a8a8a"/>
<rect x="179.2" y="548.7" width="1.2" height="0.9" fill="#8a8a8a"/>
<rect x="177.0" y="561.4" width="1.0" height="0.9" fill="#b4b4b4"/>
<rect x="179.7" y="604.7" width="1.4" height="0.9" fill="#6a6a6a"/>
<rect x="180.2" y="578.2" width="1.2" height="0.9" fill="#8a8a8a"/>
<rect x="182.8" y="578.2" width="1.2" height="0.9" fill="#8a8a8a"/>
<rect x="183.3" y="619.7" width="1.4" height="0.9" fill="#6a6a6a"/>
<rect x="183.8" y="579.6" width="1.2" height="0.9" fill="#8a8a8a"/>
<rect x="186.9" y="622.6" width="1.4" height="0.9" fill="#6a6a6a"/>
<rect x="187.8" y="624.9" width="1.0" height="0.9" fill="#b4b4b4"/>
<rect x="190.5" y="624.8" width="1.4" height="0.9" fill="#6a6a6a"/>
<rect x="191.0" y="611.9" width="1.2" height="0.9" fill="#8a8a8a"/>
<rect x="194.1" y="627.7" width="1.4" height="0.9" fill="#6a6a6a"/>
<rect x="197.7" y="617.5" width="1.4" height="0.9" fill="#6a6a6a"/>
<rect x="198.2" y="595.7" width="1.2" height="0.9" fill="#8a8a8a"/>
<rect x="200.8" y="595.7" width="1.2" height="0.9" fill="#8a8a8a"/>
<rect x="201.3" y="602.3" width="1.4" height="0.9" fill="#6a6a6a"/>
<rect x="204.9" y="597.7" width="1.4" height="0.9" fill="#6a6a6a"/>
<rect x="208.5" y="602.1" width="1.4" height="0.9" fill="#6a6a6a"/>
<rect x="209.0" y="615.0" width="1.2" height="0.9" fill="#8a8a8a"/>
<rect x="212.1" y="615.1" width="1.4" height="0.9" fill="#6a6a6a"/>
<rect x="212.6" y="599.7" width="1.2" height="0.9" fill="#8a8a8a"/>
<rect x="213.0" y="610.7" width="1.0" height="0.9" fill="#b4b4b4"/>
<rect x="215.7" y="618.1" width="1.4" height="0.9" fill="#6a6a6a"/>
<rect x="216.6" y="601.8" width="1.0" height="0.9" fill="#b4b4b4"/>
<rect x="219.3" y="618.9" width="1.4" height="0.9" fill="#6a6a6a"/>
<rect x="219.8" y="616.2" width="1.2" height="0.9" fill="#8a8a8a"/>
<rect x="222.4" y="616.2" width="1.2" height="0.9" fill="#8a8a8a"/>
<rect x="220.2" y="621.4" width="1.0" height="0.9" fill="#b4b4b4"/>
<rect x="222.9" y="616.8" width="1.4" height="0.9" fill="#6a6a6a"/>
<rect x="223.4" y="618.3" width="1.2" height="0.9" fill="#8a8a8a"/>
<rect x="223.8" y="595.8" width="1.0" height="0.9" fill="#b4b4b4"/>
<rect x="226.5" y="611.5" width="1.4" height="0.9" fill="#6a6a6a"/>
<rect x="227.0" y="607.9" width="1.2" height="0.9" fill="#8a8a8a"/>
<rect x="229.6" y="607.9" width="1.2" height="0.9" fill="#8a8a8a"/>
<rect x="230.1" y="616.6" width="1.4" height="0.9" fill="#6a6a6a"/>
<rect x="233.7" y="629.9" width="1.4" height="0.9" fill="#6a6a6a"/>
<rect x="234.2" y="622.6" width="1.2" height="0.9" fill="#8a8a8a"/>
<rect x="236.8" y="622.6" width="1.2" height="0.9" fill="#8a8a8a"/>
<rect x="234.6" y="625.1" width="1.0" height="0.9" fill="#b4b4b4"/>
</g>
<line x1="64.55" y1="550.70" x2="240.7" y2="550.70" stroke="#5b9bd5" stroke-width="1.5" stroke-dasharray="3.45 1.35"/>
<path d="M65.30,481.10 L65.30,642.60 L237.90,642.60" fill="none" stroke="#111" stroke-width="1.3"/>
<line x1="61.50" y1="484.75" x2="65.30" y2="484.75" stroke="#111" stroke-width="1.10"/>
<text x="38.85" y="487.75" font-size="8.40" fill="#231f20" textLength="18.68" lengthAdjust="spacingAndGlyphs">2000</text>
<line x1="61.50" y1="522.90" x2="65.30" y2="522.90" stroke="#111" stroke-width="1.10"/>
<text x="38.85" y="525.90" font-size="8.40" fill="#231f20" textLength="18.68" lengthAdjust="spacingAndGlyphs">1500</text>
<line x1="61.50" y1="561.10" x2="65.30" y2="561.10" stroke="#111" stroke-width="1.10"/>
<text x="38.85" y="564.10" font-size="8.40" fill="#231f20" textLength="18.68" lengthAdjust="spacingAndGlyphs">1000</text>
<line x1="61.50" y1="599.30" x2="65.30" y2="599.30" stroke="#111" stroke-width="1.10"/>
<text x="43.47" y="602.30" font-size="8.40" fill="#231f20" textLength="14.01" lengthAdjust="spacingAndGlyphs">500</text>
<line x1="61.50" y1="637.50" x2="65.30" y2="637.50" stroke="#111" stroke-width="1.10"/>
<text x="52.80" y="640.50" font-size="8.40" fill="#231f20" textLength="4.67" lengthAdjust="spacingAndGlyphs">0</text>
<text transform="translate(31.10 626.30) rotate(-90)" x="0" y="0" font-size="10.90" fill="#231f20" textLength="127.38" lengthAdjust="spacingAndGlyphs">Fragment read count (RPM)</text>
<text x="65.00" y="654.90" font-size="9.30" fill="#231f20" textLength="65.39" lengthAdjust="spacingAndGlyphs">chr11:47,375,000</text>
<text x="171.20" y="654.90" font-size="9.30" fill="#231f20" textLength="66.09" lengthAdjust="spacingAndGlyphs">chr11:47,450,000</text>
<polygon points="113.1,665.8 120.5,665.8 116.8,660.2" fill="#5aa83c"/>
<text x="112.10" y="677.80" font-size="9.60" fill="#231f20" textLength="9.73" lengthAdjust="spacingAndGlyphs">PP</text>
<text transform="translate(254.20 570.00) rotate(-90)" x="0" y="0" font-size="10.60" fill="#231f20" textLength="39.79" lengthAdjust="spacingAndGlyphs">SC4 72 h</text>
<text x="154.60" y="472.30" font-size="10.80" fill="#231f20" textLength="32.43" lengthAdjust="spacingAndGlyphs">URE VP</text>
<path d="M160.50,458.60 A18.48,18.48 0 0 0 127.40,450.60" fill="none" stroke="#64ad45" stroke-width="1.25"/>
<polygon points="124.0,456.9 124.6,447.7 127.0,450.9 131.0,451.2" fill="#64ad45"/>
<clipPath id="ccr"><rect x="318.3" y="478.3" width="176.2" height="164.1"/></clipPath>
<g clip-path="url(#ccr)">
<polygon points="326.9,634.3 329.6,610.7 334.1,569.0 338.7,560.8 343.2,574.4 347.7,599.8 351.4,609.8 356.8,601.6 361.3,570.8 365.0,565.3 368.6,574.4 372.2,583.5 373.5,560.0 374.6,545.2 376.5,520.0 378.2,499.8 380.8,545.2 381.5,560.0 384.5,593.0 388.2,603.0 391.0,609.0 395.4,600.0 398.5,560.0 403.8,478.3 420.8,478.3 426.2,560.0 428.1,565.3 433.9,574.0 436.0,573.4 442.9,587.2 449.8,601.7 453.2,601.0 458.8,572.0 462.2,581.7 465.0,591.3 471.9,600.3 476.0,601.7 483.6,598.9 485.6,610.6 489.8,638.2 489.8,639.0 485.6,624.4 481.5,627.2 471.9,629.2 465.0,624.4 460.8,616.1 458.0,610.6 455.3,617.5 449.1,623.0 436.0,625.1 433.9,626.3 429.5,603.0 425.2,581.3 420.1,566.8 418.5,560.0 417.0,545.2 413.0,506.8 410.0,490.6 407.7,522.0 405.5,550.0 403.4,560.0 401.2,581.3 398.3,606.0 395.4,626.3 393.2,633.6 390.3,630.7 384.5,627.0 377.3,626.3 372.2,621.6 365.0,616.1 359.5,621.6 352.3,629.7 341.4,628.8 334.1,630.6 326.9,636.0" fill="#e1e1e1"/>
<path d="M326.90,637.00 C327.50,634.47 330.32,622.53 331.40,618.00 C332.48,613.47 334.15,604.71 335.00,603.00 C335.85,601.29 336.83,603.69 337.80,605.20 C338.77,606.71 341.10,612.23 342.30,614.30 C343.50,616.37 345.59,619.01 346.80,620.70 C348.01,622.39 350.07,626.88 351.40,627.00 C352.73,627.12 354.99,623.89 356.80,621.60 C358.61,619.31 363.67,611.49 365.00,609.80 C366.33,608.11 365.96,608.42 366.80,608.90 C367.64,609.38 370.34,618.00 371.30,613.40 C372.26,608.80 373.40,581.77 374.00,574.40 C374.60,567.03 375.24,560.63 375.80,558.10 C376.36,555.57 377.61,553.28 378.20,555.40 C378.79,557.52 379.45,565.89 380.20,574.00 C380.95,582.11 382.88,611.00 383.80,616.20 C384.72,621.40 386.23,612.63 387.10,613.00 C387.97,613.37 389.45,616.84 390.30,619.00 C391.15,621.16 392.62,630.93 393.50,629.20 C394.38,627.47 395.97,614.91 396.90,606.00 C397.83,597.09 399.79,570.53 400.50,562.40 C401.21,554.27 401.40,556.21 402.20,545.00 C403.00,533.79 405.39,489.63 406.50,478.30 C407.61,466.97 409.42,460.00 410.50,460.00 C411.58,460.00 413.64,469.63 414.60,478.30 C415.56,486.97 417.06,516.11 417.70,525.00 C418.34,533.89 418.69,540.87 419.40,545.00 C420.11,549.13 422.32,554.07 423.00,556.00 C423.68,557.93 423.63,554.77 424.50,559.50 C425.37,564.23 428.70,585.78 429.50,591.50 C430.30,597.22 429.73,599.57 430.50,602.40 C431.27,605.23 433.46,611.23 435.30,612.70 C437.14,614.17 442.37,612.67 444.30,613.40 C446.23,614.13 448.69,617.84 449.80,618.20 C450.91,618.56 451.49,619.59 452.60,616.10 C453.71,612.61 457.01,594.20 458.10,592.00 C459.19,589.80 459.97,596.75 460.80,599.60 C461.63,602.45 462.91,610.73 464.30,613.40 C465.69,616.07 469.28,620.07 471.20,619.60 C473.12,619.13 477.14,611.10 478.70,609.90 C480.26,608.70 481.98,609.59 482.90,610.60 C483.82,611.61 484.68,613.45 485.60,617.50 C486.52,621.55 489.24,637.87 489.80,641.00" fill="none" stroke="#747474" stroke-width="0.7"/>
<rect x="326.4" y="636.3" width="1.4" height="0.9" fill="#6a6a6a"/>
<rect x="326.9" y="635.4" width="1.2" height="0.9" fill="#8a8a8a"/>
<rect x="329.5" y="635.4" width="1.2" height="0.9" fill="#8a8a8a"/>
<rect x="327.3" y="639.8" width="1.0" height="0.9" fill="#b4b4b4"/>
<rect x="330.0" y="619.1" width="1.4" height="0.9" fill="#6a6a6a"/>
<rect x="330.9" y="611.1" width="1.0" height="0.9" fill="#b4b4b4"/>
<rect x="333.6" y="606.5" width="1.4" height="0.9" fill="#6a6a6a"/>
<rect x="334.1" y="583.4" width="1.2" height="0.9" fill="#8a8a8a"/>
<rect x="336.7" y="583.4" width="1.2" height="0.9" fill="#8a8a8a"/>
<rect x="337.2" y="603.8" width="1.4" height="0.9" fill="#6a6a6a"/>
<rect x="337.7" y="574.7" width="1.2" height="0.9" fill="#8a8a8a"/>
<rect x="340.3" y="574.7" width="1.2" height="0.9" fill="#8a8a8a"/>
<rect x="340.8" y="610.1" width="1.4" height="0.9" fill="#6a6a6a"/>
<rect x="341.3" y="586.4" width="1.2" height="0.9" fill="#8a8a8a"/>
<rect x="343.9" y="586.4" width="1.2" height="0.9" fill="#8a8a8a"/>
<rect x="344.4" y="617.2" width="1.4" height="0.9" fill="#6a6a6a"/>
<rect x="344.9" y="593.9" width="1.2" height="0.9" fill="#8a8a8a"/>
<rect x="347.5" y="593.9" width="1.2" height="0.9" fill="#8a8a8a"/>
<rect x="348.0" y="618.9" width="1.4" height="0.9" fill="#6a6a6a"/>
<rect x="348.5" y="621.3" width="1.2" height="0.9" fill="#8a8a8a"/>
<rect x="351.1" y="621.3" width="1.2" height="0.9" fill="#8a8a8a"/>
<rect x="351.6" y="626.1" width="1.4" height="0.9" fill="#6a6a6a"/>
<rect x="352.5" y="610.2" width="1.0" height="0.9" fill="#b4b4b4"/>
<rect x="355.2" y="626.0" width="1.4" height="0.9" fill="#6a6a6a"/>
<rect x="355.7" y="615.4" width="1.2" height="0.9" fill="#8a8a8a"/>
<rect x="356.1" y="604.8" width="1.0" height="0.9" fill="#b4b4b4"/>
<rect x="358.8" y="619.2" width="1.4" height="0.9" fill="#6a6a6a"/>
<rect x="359.3" y="614.3" width="1.2" height="0.9" fill="#8a8a8a"/>
<rect x="361.9" y="614.3" width="1.2" height="0.9" fill="#8a8a8a"/>
<rect x="362.4" y="615.5" width="1.4" height="0.9" fill="#6a6a6a"/>
<rect x="362.9" y="613.2" width="1.2" height="0.9" fill="#8a8a8a"/>
<rect x="363.3" y="589.2" width="1.0" height="0.9" fill="#b4b4b4"/>
<rect x="366.0" y="607.3" width="1.4" height="0.9" fill="#6a6a6a"/>
<rect x="366.5" y="588.3" width="1.2" height="0.9" fill="#8a8a8a"/>
<rect x="369.6" y="610.3" width="1.4" height="0.9" fill="#6a6a6a"/>
<rect x="370.1" y="618.5" width="1.2" height="0.9" fill="#8a8a8a"/>
<rect x="373.2" y="577.2" width="1.4" height="0.9" fill="#6a6a6a"/>
<rect x="373.7" y="581.1" width="1.2" height="0.9" fill="#8a8a8a"/>
<rect x="376.8" y="553.3" width="1.4" height="0.9" fill="#6a6a6a"/>
<rect x="377.3" y="616.4" width="1.2" height="0.9" fill="#8a8a8a"/>
<rect x="379.9" y="616.4" width="1.2" height="0.9" fill="#8a8a8a"/>
<rect x="380.4" y="578.9" width="1.4" height="0.9" fill="#6a6a6a"/>
<rect x="384.0" y="613.9" width="1.4" height="0.9" fill="#6a6a6a"/>
<rect x="384.5" y="594.3" width="1.2" height="0.9" fill="#8a8a8a"/>
<rect x="384.9" y="620.9" width="1.0" height="0.9" fill="#b4b4b4"/>
<rect x="387.6" y="616.2" width="1.4" height="0.9" fill="#6a6a6a"/>
<rect x="388.1" y="608.5" width="1.2" height="0.9" fill="#8a8a8a"/>
<rect x="388.5" y="603.7" width="1.0" height="0.9" fill="#b4b4b4"/>
<rect x="391.2" y="623.5" width="1.4" height="0.9" fill="#6a6a6a"/>
<rect x="391.7" y="608.4" width="1.2" height="0.9" fill="#8a8a8a"/>
<rect x="394.8" y="618.7" width="1.4" height="0.9" fill="#6a6a6a"/>
<rect x="395.3" y="614.1" width="1.2" height="0.9" fill="#8a8a8a"/>
<rect x="398.4" y="582.9" width="1.4" height="0.9" fill="#6a6a6a"/>
<rect x="398.9" y="597.2" width="1.2" height="0.9" fill="#8a8a8a"/>
<rect x="402.0" y="541.3" width="1.4" height="0.9" fill="#6a6a6a"/>
<rect x="402.5" y="520.4" width="1.2" height="0.9" fill="#8a8a8a"/>
<rect x="405.6" y="482.7" width="1.4" height="0.9" fill="#6a6a6a"/>
<rect x="406.1" y="539.2" width="1.2" height="0.9" fill="#8a8a8a"/>
<rect x="408.7" y="539.2" width="1.2" height="0.9" fill="#8a8a8a"/>
<rect x="409.2" y="466.4" width="1.4" height="0.9" fill="#6a6a6a"/>
<rect x="409.7" y="482.8" width="1.2" height="0.9" fill="#8a8a8a"/>
<rect x="412.8" y="473.1" width="1.4" height="0.9" fill="#6a6a6a"/>
<rect x="413.3" y="495.7" width="1.2" height="0.9" fill="#8a8a8a"/>
<rect x="415.9" y="495.7" width="1.2" height="0.9" fill="#8a8a8a"/>
<rect x="416.4" y="512.7" width="1.4" height="0.9" fill="#6a6a6a"/>
<rect x="420.0" y="549.5" width="1.4" height="0.9" fill="#6a6a6a"/>
<rect x="423.6" y="557.5" width="1.4" height="0.9" fill="#6a6a6a"/>
<rect x="424.1" y="539.1" width="1.2" height="0.9" fill="#8a8a8a"/>
<rect x="426.7" y="539.1" width="1.2" height="0.9" fill="#8a8a8a"/>
<rect x="424.5" y="520.6" width="1.0" height="0.9" fill="#b4b4b4"/>
<rect x="427.2" y="581.9" width="1.4" height="0.9" fill="#6a6a6a"/>
<rect x="430.8" y="606.5" width="1.4" height="0.9" fill="#6a6a6a"/>
<rect x="431.3" y="595.8" width="1.2" height="0.9" fill="#8a8a8a"/>
<rect x="433.9" y="595.8" width="1.2" height="0.9" fill="#8a8a8a"/>
<rect x="431.7" y="580.1" width="1.0" height="0.9" fill="#b4b4b4"/>
<rect x="434.4" y="610.6" width="1.4" height="0.9" fill="#6a6a6a"/>
<rect x="434.9" y="605.1" width="1.2" height="0.9" fill="#8a8a8a"/>
<rect x="438.0" y="615.9" width="1.4" height="0.9" fill="#6a6a6a"/>
<rect x="438.9" y="626.5" width="1.0" height="0.9" fill="#b4b4b4"/>
<rect x="441.6" y="612.7" width="1.4" height="0.9" fill="#6a6a6a"/>
<rect x="442.1" y="600.1" width="1.2" height="0.9" fill="#8a8a8a"/>
<rect x="444.7" y="600.1" width="1.2" height="0.9" fill="#8a8a8a"/>
<rect x="445.2" y="615.3" width="1.4" height="0.9" fill="#6a6a6a"/>
<rect x="445.7" y="607.2" width="1.2" height="0.9" fill="#8a8a8a"/>
<rect x="448.8" y="617.3" width="1.4" height="0.9" fill="#6a6a6a"/>
<rect x="452.4" y="612.8" width="1.4" height="0.9" fill="#6a6a6a"/>
<rect x="456.0" y="603.8" width="1.4" height="0.9" fill="#6a6a6a"/>
<rect x="456.5" y="611.6" width="1.2" height="0.9" fill="#8a8a8a"/>
<rect x="459.1" y="611.6" width="1.2" height="0.9" fill="#8a8a8a"/>
<rect x="456.9" y="598.9" width="1.0" height="0.9" fill="#b4b4b4"/>
<rect x="459.6" y="595.8" width="1.4" height="0.9" fill="#6a6a6a"/>
<rect x="460.1" y="593.2" width="1.2" height="0.9" fill="#8a8a8a"/>
<rect x="463.2" y="611.1" width="1.4" height="0.9" fill="#6a6a6a"/>
<rect x="463.7" y="591.8" width="1.2" height="0.9" fill="#8a8a8a"/>
<rect x="466.3" y="591.8" width="1.2" height="0.9" fill="#8a8a8a"/>
<rect x="466.8" y="618.2" width="1.4" height="0.9" fill="#6a6a6a"/>
<rect x="470.4" y="621.9" width="1.4" height="0.9" fill="#6a6a6a"/>
<rect x="470.9" y="623.4" width="1.2" height="0.9" fill="#8a8a8a"/>
<rect x="473.5" y="623.4" width="1.2" height="0.9" fill="#8a8a8a"/>
<rect x="474.0" y="618.2" width="1.4" height="0.9" fill="#6a6a6a"/>
<rect x="474.5" y="609.4" width="1.2" height="0.9" fill="#8a8a8a"/>
<rect x="477.6" y="606.8" width="1.4" height="0.9" fill="#6a6a6a"/>
<rect x="478.5" y="631.1" width="1.0" height="0.9" fill="#b4b4b4"/>
<rect x="481.2" y="610.9" width="1.4" height="0.9" fill="#6a6a6a"/>
<rect x="481.7" y="612.9" width="1.2" height="0.9" fill="#8a8a8a"/>
<rect x="484.3" y="612.9" width="1.2" height="0.9" fill="#8a8a8a"/>
<rect x="482.1" y="599.7" width="1.0" height="0.9" fill="#b4b4b4"/>
<rect x="484.8" y="612.5" width="1.4" height="0.9" fill="#6a6a6a"/>
<rect x="488.4" y="637.9" width="1.4" height="0.9" fill="#6a6a6a"/>
<rect x="488.9" y="633.3" width="1.2" height="0.9" fill="#8a8a8a"/>
</g>
<line x1="317.55" y1="553.50" x2="495.7" y2="553.50" stroke="#5b9bd5" stroke-width="1.5" stroke-dasharray="3.45 1.35"/>
<path d="M318.30,481.00 L318.30,642.40 L491.50,642.40" fill="none" stroke="#111" stroke-width="1.3"/>
<line x1="314.50" y1="484.60" x2="318.30" y2="484.60" stroke="#111" stroke-width="1.10"/>
<text x="291.85" y="487.60" font-size="8.40" fill="#231f20" textLength="18.68" lengthAdjust="spacingAndGlyphs">2000</text>
<line x1="314.50" y1="522.80" x2="318.30" y2="522.80" stroke="#111" stroke-width="1.10"/>
<text x="291.85" y="525.80" font-size="8.40" fill="#231f20" textLength="18.68" lengthAdjust="spacingAndGlyphs">1500</text>
<line x1="314.50" y1="561.00" x2="318.30" y2="561.00" stroke="#111" stroke-width="1.10"/>
<text x="291.85" y="564.00" font-size="8.40" fill="#231f20" textLength="18.68" lengthAdjust="spacingAndGlyphs">1000</text>
<line x1="314.50" y1="599.10" x2="318.30" y2="599.10" stroke="#111" stroke-width="1.10"/>
<text x="296.47" y="602.10" font-size="8.40" fill="#231f20" textLength="14.01" lengthAdjust="spacingAndGlyphs">500</text>
<line x1="314.50" y1="637.30" x2="318.30" y2="637.30" stroke="#111" stroke-width="1.10"/>
<text x="305.80" y="640.30" font-size="8.40" fill="#231f20" textLength="4.67" lengthAdjust="spacingAndGlyphs">0</text>
<text transform="translate(283.60 625.10) rotate(-90)" x="0" y="0" font-size="10.90" fill="#231f20" textLength="127.68" lengthAdjust="spacingAndGlyphs">Fragment read count (RPM)</text>
<text x="320.20" y="654.60" font-size="9.30" fill="#231f20" textLength="66.29" lengthAdjust="spacingAndGlyphs">chr11:47,375,000</text>
<text x="426.20" y="654.60" font-size="9.30" fill="#231f20" textLength="66.09" lengthAdjust="spacingAndGlyphs">chr11:47,450,000</text>
<polygon points="368.8,665.8 376.2,665.8 372.5,660.1" fill="#5aa83c"/>
<text x="367.90" y="677.50" font-size="9.60" fill="#231f20" textLength="9.63" lengthAdjust="spacingAndGlyphs">PP</text>
<text transform="translate(509.60 595.70) rotate(-90)" x="0" y="0" font-size="10.60" fill="#231f20" textLength="67.87" lengthAdjust="spacingAndGlyphs">shPU.1 kd 72 h</text>
<text x="400.50" y="472.30" font-size="10.80" fill="#231f20" textLength="32.23" lengthAdjust="spacingAndGlyphs">URE VP</text>
<path d="M416.80,458.60 A18.48,18.48 0 0 0 383.70,450.60" fill="none" stroke="#64ad45" stroke-width="1.25"/>
<polygon points="380.3,456.9 380.9,447.7 383.3,450.9 387.3,451.2" fill="#64ad45"/>
<rect x="0.75" y="0.9" width="518.5" height="687.2" fill="none" stroke="#1a1a1a" stroke-width="1.6"/>
</svg></body></html>
